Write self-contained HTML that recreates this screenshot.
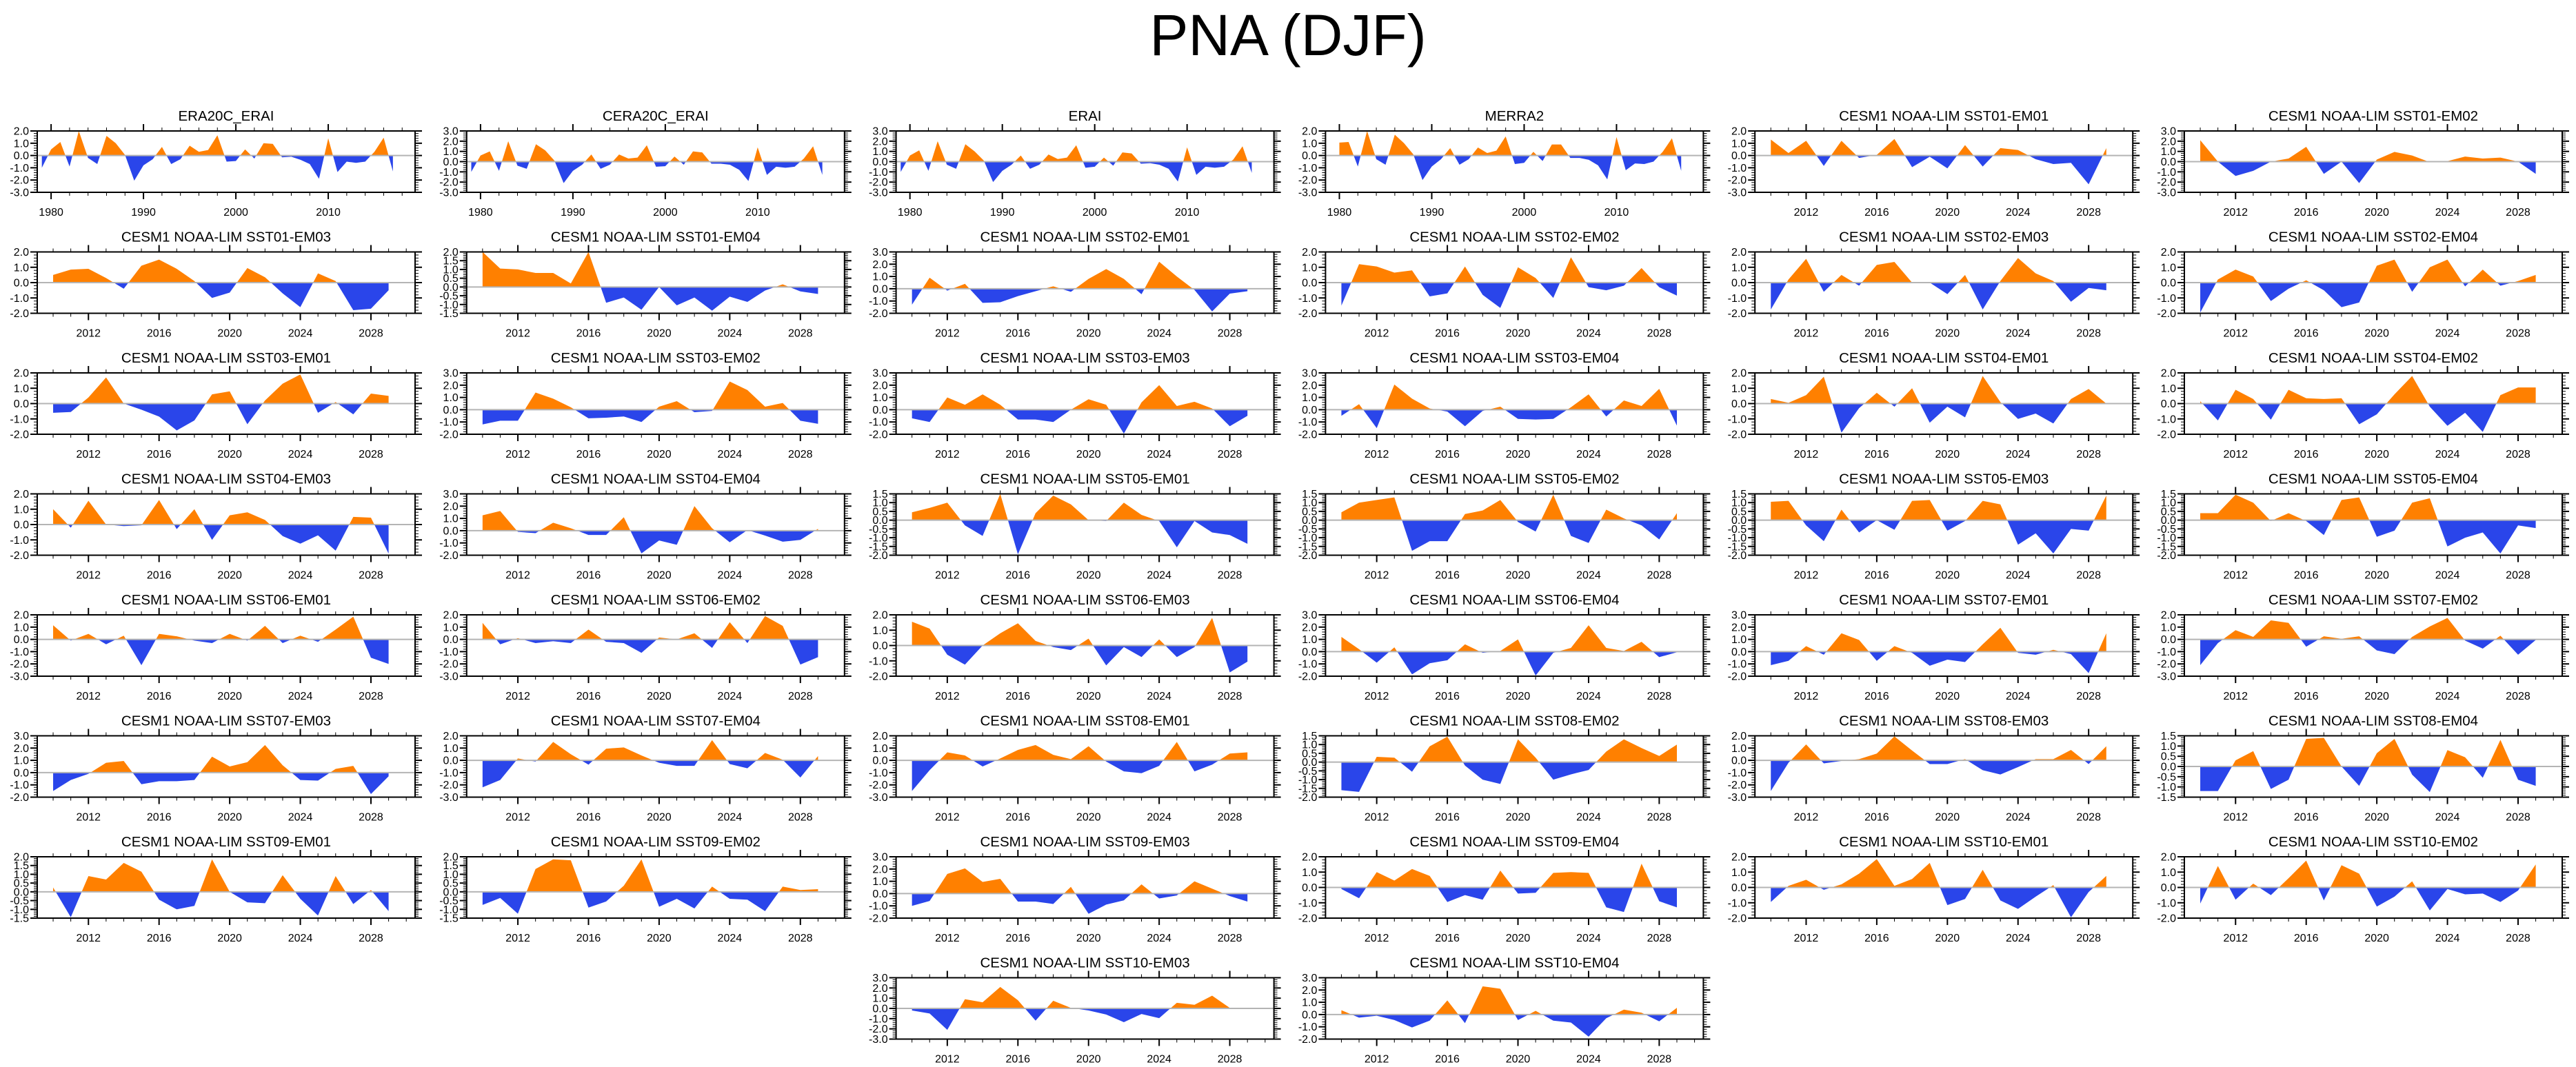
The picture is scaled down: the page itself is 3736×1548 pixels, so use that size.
<!DOCTYPE html>
<html><head><meta charset="utf-8"><title>PNA (DJF)</title>
<style>
html,body{margin:0;padding:0;background:#fff;}
svg{display:block;font-family:"Liberation Sans",Arial,sans-serif;}
</style></head>
<body>
<svg id="chart" xmlns="http://www.w3.org/2000/svg" width="3736" height="1548" viewBox="0 0 3736 1548">
<rect x="0" y="0" width="3736" height="1548" fill="#fff"/>
<text x="1868" y="80" text-anchor="middle" font-size="84" fill="#000">PNA (DJF)</text>
</svg>
<script>
const titles = ["ERA20C_ERAI","CERA20C_ERAI","ERAI","MERRA2","CESM1 NOAA-LIM SST01-EM01","CESM1 NOAA-LIM SST01-EM02",
"CESM1 NOAA-LIM SST01-EM03","CESM1 NOAA-LIM SST01-EM04","CESM1 NOAA-LIM SST02-EM01","CESM1 NOAA-LIM SST02-EM02","CESM1 NOAA-LIM SST02-EM03","CESM1 NOAA-LIM SST02-EM04",
"CESM1 NOAA-LIM SST03-EM01","CESM1 NOAA-LIM SST03-EM02","CESM1 NOAA-LIM SST03-EM03","CESM1 NOAA-LIM SST03-EM04","CESM1 NOAA-LIM SST04-EM01","CESM1 NOAA-LIM SST04-EM02",
"CESM1 NOAA-LIM SST04-EM03","CESM1 NOAA-LIM SST04-EM04","CESM1 NOAA-LIM SST05-EM01","CESM1 NOAA-LIM SST05-EM02","CESM1 NOAA-LIM SST05-EM03","CESM1 NOAA-LIM SST05-EM04",
"CESM1 NOAA-LIM SST06-EM01","CESM1 NOAA-LIM SST06-EM02","CESM1 NOAA-LIM SST06-EM03","CESM1 NOAA-LIM SST06-EM04","CESM1 NOAA-LIM SST07-EM01","CESM1 NOAA-LIM SST07-EM02",
"CESM1 NOAA-LIM SST07-EM03","CESM1 NOAA-LIM SST07-EM04","CESM1 NOAA-LIM SST08-EM01","CESM1 NOAA-LIM SST08-EM02","CESM1 NOAA-LIM SST08-EM03","CESM1 NOAA-LIM SST08-EM04",
"CESM1 NOAA-LIM SST09-EM01","CESM1 NOAA-LIM SST09-EM02","CESM1 NOAA-LIM SST09-EM03","CESM1 NOAA-LIM SST09-EM04","CESM1 NOAA-LIM SST10-EM01","CESM1 NOAA-LIM SST10-EM02",
"CESM1 NOAA-LIM SST10-EM03","CESM1 NOAA-LIM SST10-EM04"];
const yMins = [-3,-3,-3,-3,-3,-3, -2,-1.5,-2,-2,-2,-2, -2,-2,-2,-2,-2,-2, -2,-2,-2,-2,-2,-2, -3,-3,-2,-2,-2,-3, -2,-3,-3,-2,-3,-1.5, -1.5,-1.5,-2,-2,-2,-2, -3,-2];
const yMaxs = [2,3,3,2,2,3, 2,2,3,2,2,2, 2,3,3,3,2,2, 2,3,1.5,1.5,1.5,1.5, 2,2,2,3,3,2, 3,2,2,1.5,2,1.5, 2,2,3,2,2,2, 3,3];
const ySteps = [1,1,1,1,1,1, 1,0.5,1,1,1,1, 1,1,1,1,1,1, 1,1,0.5,0.5,0.5,0.5, 1,1,1,1,1,1, 1,1,1,0.5,1,0.5, 0.5,0.5,1,1,1,1, 1,1];
const startYears = [1979,1979,1979,1980,2010,2010, 2010,2010,2010,2010,2010,2010, 2010,2010,2010,2010,2010,2010, 2010,2010,2010,2010,2010,2010, 2010,2010,2010,2010,2010,2010, 2010,2010,2010,2010,2010,2010, 2010,2010,2010,2010,2010,2010, 2010,2010];
const reanalysisXTicks = [1980,1990,2000,2010];
const cesmXTicks = [2012,2016,2020,2024,2028];

const v00 = [-1.0,0.5,1.1,-0.9,2.0,-0.2,-0.7,1.6,1.0,0.05,-2.05,-0.8,-0.3,0.7,-0.7,-0.3,0.8,0.3,0.45,1.65,-0.5,-0.45,0.5,-0.25,1.0,0.95,-0.15,-0.1,-0.35,-0.7,-1.9,1.4,-1.35,-0.5,-0.6,-0.5,0.3,1.45,-1.3];
const v01 = [-1.0,0.6,1.0,-0.9,2.0,-0.4,-0.7,1.7,1.1,0.1,-2.1,-0.9,-0.3,0.7,-0.7,-0.3,0.7,0.3,0.4,1.6,-0.5,-0.45,0.5,-0.3,1.0,0.9,-0.2,-0.2,-0.3,-0.8,-1.9,1.4,-1.3,-0.5,-0.6,-0.5,0.3,1.5,-1.3];
const v02 = [-1.0,0.6,1.1,-0.9,2.0,-0.3,-0.7,1.7,1.0,0.1,-2.0,-0.9,-0.3,0.6,-0.7,-0.3,0.7,0.25,0.4,1.6,-0.6,-0.5,0.4,-0.4,0.9,0.8,-0.2,-0.15,-0.3,-0.7,-1.95,1.4,-1.3,-0.5,-0.6,-0.5,0.2,1.5,-1.1];
const v03 = [1.05,1.1,-0.9,2.0,-0.3,-0.75,1.7,1.0,0.1,-2.0,-0.9,-0.3,0.6,-0.75,-0.3,0.65,0.2,0.4,1.55,-0.7,-0.6,0.3,-0.45,0.9,0.9,-0.2,-0.2,-0.35,-0.8,-1.95,1.5,-1.2,-0.65,-0.7,-0.5,0.3,1.4,-1.25];
const v04 = [1.3,0.2,1.2,-0.85,1.2,-0.2,0.05,1.35,-0.95,-0.1,-1.05,0.85,-0.9,0.6,0.45,-0.3,-0.7,-0.6,-2.35,0.6];
const v05 = [2.1,0.0,-1.4,-0.9,0.0,0.3,1.45,-1.2,0.0,-2.1,0.2,0.95,0.6,-0.05,0.05,0.5,0.3,0.4,0.0,-1.2];
const v06 = [0.5,0.85,0.9,0.3,-0.4,1.1,1.5,0.9,0.1,-1.0,-0.65,0.95,0.35,-0.7,-1.6,0.6,0.1,-1.8,-1.7,-0.5];
const v07 = [2.0,1.05,1.0,0.8,0.8,0.2,2.0,-0.9,-0.6,-1.3,0.0,-1.05,-0.6,-1.35,-0.55,-0.85,-0.2,0.15,-0.25,-0.4];
const v08 = [-1.3,0.9,-0.15,0.4,-1.15,-1.1,-0.6,-0.2,0.2,-0.25,0.8,1.6,0.8,-0.45,2.2,1.0,-0.1,-1.85,-0.4,-0.2];
const v09 = [-1.5,1.2,1.05,0.65,0.8,-0.9,-0.7,1.05,-0.8,-1.65,1.0,0.3,-1.0,1.65,-0.3,-0.5,-0.2,0.95,-0.3,-0.85];
const v10 = [-1.75,0.2,1.55,-0.6,0.5,-0.2,1.15,1.35,0.0,0.0,-0.75,0.5,-1.75,0.1,1.6,0.6,0.1,-1.25,-0.35,-0.5];
const v11 = [-1.95,0.2,0.85,0.4,-1.2,-0.4,0.15,-0.5,-1.6,-1.3,1.1,1.5,-0.6,1.0,1.5,-0.25,0.85,-0.2,0.1,0.5];
const v12 = [-0.6,-0.55,0.4,1.7,0.0,-0.4,-0.85,-1.75,-1.1,0.6,0.8,-1.35,0.2,1.3,1.9,-0.6,0.1,-0.7,0.65,0.5];
const v13 = [-1.2,-0.9,-0.9,1.4,0.9,0.2,-0.7,-0.65,-0.55,-1.0,0.25,0.7,-0.2,-0.1,2.3,1.6,0.25,0.55,-0.9,-1.15];
const v14 = [-0.7,-1.0,1.0,0.4,1.25,0.4,-0.8,-0.8,-1.0,0.0,0.85,0.4,-1.95,0.6,2.0,0.3,0.65,0.1,-1.35,-0.5];
const v15 = [-0.5,0.45,-1.5,2.05,0.9,0.1,-0.15,-1.35,-0.1,0.25,-0.75,-0.8,-0.75,0.2,1.25,-0.55,0.75,0.3,1.7,-1.3];
const v16 = [0.3,0.05,0.55,1.75,-1.9,-0.3,0.7,-0.2,1.0,-1.25,-0.2,-0.9,1.8,0.1,-1.0,-0.65,-1.3,0.3,0.95,0.0];
const v17 = [0.15,-1.1,0.9,0.3,-1.05,0.9,0.35,0.3,0.35,-1.35,-0.7,0.6,1.8,-0.2,-1.45,-0.6,-1.85,0.55,1.05,1.05];
const v18 = [1.0,-0.2,1.55,0.0,-0.1,-0.05,1.6,-0.3,1.0,-1.0,0.6,0.8,0.3,-0.75,-1.25,-0.7,-1.7,0.5,0.45,-1.9];
const v19 = [1.25,1.6,-0.1,-0.2,0.65,0.2,-0.35,-0.35,1.1,-1.85,-0.8,-1.15,2.0,0.2,-0.95,0.05,-0.4,-0.9,-0.75,0.15];
const v20 = [0.45,0.7,1.0,-0.3,-0.9,1.5,-1.95,0.4,1.4,0.9,0.0,-0.05,1.0,0.3,-0.05,-1.55,-0.05,-0.7,-0.85,-1.35];
const v21 = [0.45,1.0,1.15,1.3,-1.75,-1.2,-1.2,0.35,0.55,1.15,-0.1,-0.65,1.45,-0.9,-1.3,0.6,0.1,-0.3,-1.1,0.4];
const v22 = [1.05,1.1,-0.3,-1.2,0.6,-0.7,0.0,-0.55,1.1,1.15,-0.6,-0.05,1.1,0.9,-1.4,-0.75,-1.9,-0.5,-0.6,1.4];
const v23 = [0.4,0.4,1.45,1.0,-0.05,0.4,-0.05,-0.85,1.15,1.3,-0.95,-0.6,1.0,1.25,-1.5,-1.0,-0.7,-1.9,-0.3,-0.45];
const v24 = [1.15,-0.1,0.45,-0.4,0.3,-2.1,0.45,0.25,-0.1,-0.3,0.45,-0.1,1.1,-0.3,0.3,-0.2,0.8,1.85,-1.5,-2.0];
const v25 = [1.35,-0.4,0.1,-0.3,-0.15,-0.3,0.8,-0.2,-0.3,-1.1,0.15,0.0,0.5,-0.7,1.4,-0.3,1.9,1.1,-2.05,-1.45];
const v26 = [1.55,1.1,-0.6,-1.25,0.0,0.8,1.45,0.3,-0.1,-0.3,0.45,-1.3,-0.1,-0.75,0.4,-0.75,-0.1,1.8,-1.75,-1.05];
const v27 = [1.2,0.2,-0.9,0.35,-1.85,-0.95,-0.7,0.6,-0.1,0.05,1.0,-1.95,-0.1,0.3,2.15,0.3,0.05,0.8,-0.45,-0.05];
const v28 = [-1.1,-0.75,0.45,-0.25,1.5,0.95,-0.75,0.45,-0.1,-1.15,-0.65,-0.85,0.6,1.95,-0.1,-0.25,0.15,-0.2,-1.75,1.5];
const v29 = [-2.1,-0.3,0.75,0.2,1.55,1.35,-0.6,0.25,0.05,0.25,-0.9,-1.2,0.2,1.05,1.75,-0.1,-0.75,0.3,-1.25,-0.05];
const v30 = [-1.5,-0.6,-0.1,0.8,0.95,-0.95,-0.7,-0.7,-0.6,1.3,0.5,0.85,2.25,0.6,-0.6,-0.65,0.3,0.55,-1.75,-0.3];
const v31 = [-2.2,-1.6,0.15,-0.1,1.5,0.5,-0.35,0.95,1.05,0.4,-0.2,-0.45,-0.45,1.65,-0.3,-0.65,0.6,0.05,-1.4,0.35];
const v32 = [-2.5,-0.8,0.65,0.4,-0.5,0.15,0.85,1.25,0.45,0.1,1.15,-0.1,-0.9,-1.05,-0.45,1.5,-0.9,-0.35,0.55,0.65];
const v33 = [-1.6,-1.7,0.3,0.25,-0.55,0.9,1.45,-0.2,-1.0,-1.25,1.3,0.25,-1.0,-0.7,-0.45,0.6,1.3,0.8,0.35,1.0];
const v34 = [-2.5,-0.2,1.3,-0.25,-0.05,0.1,0.55,1.95,0.8,-0.3,-0.3,0.1,-0.8,-1.15,-0.55,0.1,0.1,0.85,-0.3,1.15];
const v35 = [-1.2,-1.2,0.3,0.75,-1.1,-0.65,1.35,1.4,0.0,-0.95,0.65,1.35,-0.4,-1.25,0.8,0.45,-0.55,1.3,-0.65,-0.95];
const v36 = [0.25,-1.45,0.9,0.7,1.65,1.15,-0.45,-1.0,-0.8,1.85,0.0,-0.6,-0.65,0.95,-0.4,-1.35,0.9,-0.7,0.1,-1.1];
const v37 = [-0.75,-0.35,-1.25,1.3,1.85,1.8,-0.9,-0.55,0.35,1.85,-0.85,-0.4,-0.95,0.3,-0.4,-0.45,-1.1,0.3,0.1,0.15];
const v38 = [-1.0,-0.6,1.6,2.05,0.95,1.2,-0.65,-0.65,-0.85,0.55,-1.65,-0.9,-0.55,0.75,-0.4,-0.15,1.0,0.4,-0.2,-0.65];
const v39 = [-0.1,-0.7,1.0,0.45,1.2,0.75,-0.95,-0.5,-0.8,1.1,-0.4,-0.35,0.95,1.0,0.95,-1.3,-1.6,1.55,-0.9,-1.3];
const v40 = [-0.95,0.1,0.5,-0.15,0.2,0.9,1.85,0.1,0.55,1.6,-1.15,-0.75,1.15,-0.85,-1.4,-0.6,0.15,-1.95,-0.3,0.75];
const v41 = [-1.05,1.4,-0.8,0.25,-0.5,0.6,1.75,-0.85,1.45,0.9,-1.25,-0.6,0.4,-1.5,-0.1,-0.45,-0.4,-0.95,-0.2,1.5];
const v42 = [-0.2,-0.5,-2.1,0.9,0.6,2.1,0.8,-1.2,0.75,0.05,-0.2,-0.6,-1.35,-0.55,-0.95,0.55,0.35,1.25,0.05,0.0];
const v43 = [0.35,-0.25,-0.1,-0.45,-1.05,-0.5,1.15,-0.7,2.3,2.1,-0.45,0.3,-0.5,-0.65,-1.8,-0.3,0.4,0.15,-0.55,0.55];
const allValues = [v00,v01,v02,v03,v04,v05,v06,v07,v08,v09,v10,v11,v12,v13,v14,v15,v16,v17,v18,v19,v20,v21,v22,v23,v24,v25,v26,v27,v28,v29,v30,v31,v32,v33,v34,v35,v36,v37,v38,v39,v40,v41,v42,v43];

const NS = "http://www.w3.org/2000/svg";
const svg = document.getElementById('chart');
const PW = 548, PH = 89, X0 = 54, Y0 = 190, DX = 622.8, DY = 175.5;
const ORANGE = "#ff8000", BLUE = "#2a45ea";

function mk(tag, attrs, parent) {
  const e = document.createElementNS(NS, tag);
  for (const k in attrs) e.setAttribute(k, attrs[k]);
  parent.appendChild(e);
  return e;
}

function fmt(v) { return v.toFixed(1); }

function drawPanel(i) {
  let r, c;
  if (i < 42) { r = Math.floor(i / 6); c = i % 6; } else { r = 7; c = i - 40; }
  const left = X0 + DX * c, top = Y0 + DY * r;
  const reana = i < 4;
  const xmin = reana ? 1978.5 : 2009.1, xmax = reana ? 2019.4 : 2030.5;
  const ymin = yMins[i], ymax = yMaxs[i], step = ySteps[i];
  const sx = x => left + (x - xmin) / (xmax - xmin) * PW;
  const sy = y => top + (ymax - y) / (ymax - ymin) * PH;

  const g = mk('g', {}, svg);
  
  

  const t = mk('text', {x: left + PW / 2, y: top - 15, 'text-anchor': 'middle', 'font-size': 20.5, fill: '#000'}, g);
  t.textContent = titles[i];
  
  

  const cidA = 'ca' + i, cidB = 'cb' + i;
  const defs = mk('defs', {}, g);
  const cpA = mk('clipPath', {id: cidA}, defs);
  mk('rect', {x: left, y: top, width: PW, height: sy(0) - top}, cpA);
  const cpB = mk('clipPath', {id: cidB}, defs);
  mk('rect', {x: left, y: sy(0), width: PW, height: top + PH - sy(0)}, cpB);

  const vals = allValues[i], sYear = startYears[i];
  let pts = [];
  vals.forEach((v, k) => pts.push(sx(sYear + k).toFixed(2) + ',' + sy(v).toFixed(2)));
  pts.push(sx(sYear + vals.length - 1).toFixed(2) + ',' + sy(0).toFixed(2));
  pts.push(sx(sYear).toFixed(2) + ',' + sy(0).toFixed(2));
  const pos = mk('polygon', {points: pts.join(' '), fill: ORANGE, 'clip-path': 'url(#' + cidA + ')'}, g);
  
  
  const neg = mk('polygon', {points: pts.join(' '), fill: BLUE, 'clip-path': 'url(#' + cidB + ')'}, g);
  
  

  const zl = mk('line', {x1: left, x2: left + PW, y1: sy(0), y2: sy(0), stroke: '#b4b4b4', 'stroke-width': 2}, g);
  
  

  const box = mk('rect', {x: left, y: top, width: PW, height: PH, fill: 'none', stroke: '#000', 'stroke-width': 2}, g);
  
  

  const minorStep = step / 5;
  const nMinor = Math.round((ymax - ymin) / minorStep);
  for (let k = 0; k <= nMinor; k++) {
    const y = ymin + k * minorStep;
    const major = k % 5 === 0;
    const len = major ? 10 : 5;
    const py = sy(y);
    mk('line', {x1: left - len, x2: left, y1: py, y2: py, stroke: '#000', 'stroke-width': major ? 2 : 1}, g);
    mk('line', {x1: left + PW, x2: left + PW + len, y1: py, y2: py, stroke: '#000', 'stroke-width': major ? 2 : 1}, g);
    if (major) {
      const lt = mk('text', {x: left - 12, y: py + 5.5, 'text-anchor': 'end', 'font-size': 16, fill: '#000'}, g);
      lt.textContent = fmt(y);
      
      
    }
  }
  const majors = reana ? reanalysisXTicks : cesmXTicks;
  const minors = [];
  if (reana) { for (let y = 1980; y <= 2018; y += 2) minors.push(y); }
  else { for (let y = 2010; y <= 2030; y++) minors.push(y); }
  minors.forEach(y => {
    const major = majors.indexOf(y) >= 0;
    const len = major ? 10 : 5;
    const px = sx(y);
    mk('line', {x1: px, x2: px, y1: top - len, y2: top, stroke: '#000', 'stroke-width': major ? 2 : 1}, g);
    mk('line', {x1: px, x2: px, y1: top + PH, y2: top + PH + len, stroke: '#000', 'stroke-width': major ? 2 : 1}, g);
  });
  majors.forEach(y => {
    const xt = mk('text', {x: sx(y), y: top + PH + 34, 'text-anchor': 'middle', 'font-size': 16, fill: '#000'}, g);
    xt.textContent = String(y);
    
    
  });
}

for (let i = 0; i < titles.length; i++) drawPanel(i);
</script>
</body></html>
